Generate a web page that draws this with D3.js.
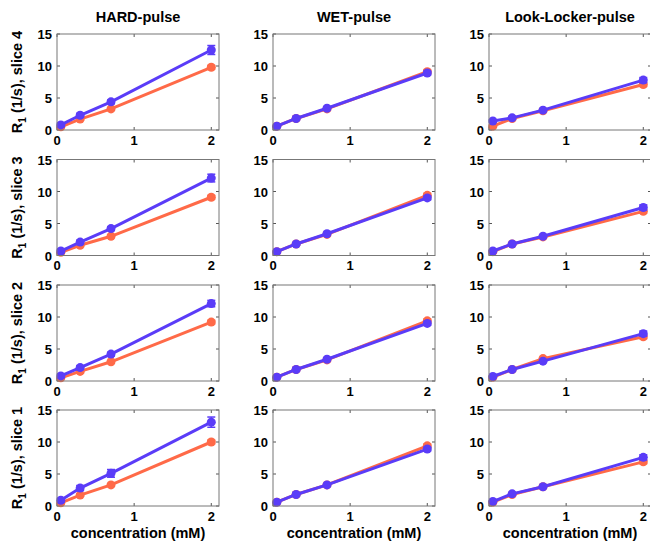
<!DOCTYPE html>
<html>
<head>
<meta charset="utf-8">
<script src="https://cdn.jsdelivr.net/npm/d3@7"></script>
<style>
  body { margin: 0; background: #fff; }
  svg { font-family: "Liberation Sans", Arial, sans-serif; font-weight: bold; }
</style>
</head>
<body>
<div id="app"></div>
<script>
const concentrations = [0.05, 0.3, 0.7, 2];
const methods = ["HARD-pulse", "WET-pulse", "Look-Locker-pulse"];
const slices = ["slice 4", "slice 3", "slice 2", "slice 1"];
const xTicks = [0, 1, 2];
const yTicks = [0, 5, 10, 15];

// red series, per method then per slice (rows top to bottom)
const redR1 = [
    [[0.5, 1.7, 3.3, 9.8], [0.5, 1.6, 3.0, 9.1], [0.5, 1.5, 3.0, 9.2], [0.5, 1.7, 3.3, 10.0]],
    [[0.6, 1.8, 3.3, 9.1], [0.6, 1.8, 3.3, 9.4], [0.6, 1.8, 3.3, 9.4], [0.6, 1.8, 3.3, 9.4]],
    [[0.6, 1.8, 3.0, 7.1], [0.6, 1.8, 2.9, 6.9], [0.6, 1.8, 3.5, 6.9], [0.6, 1.8, 3.0, 6.9]]
];
const redErr = [
    [[0.1, 0.2, 0.2, 0.3], [0.1, 0.2, 0.2, 0.3], [0.1, 0.2, 0.2, 0.3], [0.1, 0.2, 0.2, 0.3]],
    [[0.1, 0.1, 0.2, 0.3], [0.1, 0.1, 0.2, 0.3], [0.1, 0.1, 0.2, 0.3], [0.1, 0.1, 0.2, 0.3]],
    [[0.1, 0.1, 0.2, 0.3], [0.1, 0.1, 0.2, 0.3], [0.1, 0.1, 0.2, 0.3], [0.1, 0.1, 0.2, 0.3]]
];
// blue series
const blueR1 = [
    [[0.8, 2.3, 4.4, 12.5], [0.7, 2.1, 4.2, 12.1], [0.8, 2.1, 4.2, 12.1], [0.9, 2.8, 5.1, 13.1]],
    [[0.6, 1.8, 3.4, 8.9], [0.6, 1.8, 3.4, 9.0], [0.6, 1.8, 3.4, 9.0], [0.6, 1.8, 3.3, 8.9]],
    [[1.4, 1.9, 3.1, 7.8], [0.7, 1.8, 3.0, 7.5], [0.7, 1.8, 3.1, 7.4], [0.7, 1.9, 3.0, 7.6]]
];
const blueErr = [
    [[0.3, 0.3, 0.3, 0.7], [0.3, 0.3, 0.3, 0.6], [0.3, 0.3, 0.3, 0.5], [0.3, 0.4, 0.6, 0.8]],
    [[0.1, 0.2, 0.2, 0.3], [0.1, 0.2, 0.2, 0.3], [0.1, 0.2, 0.2, 0.3], [0.1, 0.2, 0.2, 0.3]],
    [[0.2, 0.2, 0.2, 0.4], [0.1, 0.2, 0.2, 0.4], [0.1, 0.2, 0.2, 0.4], [0.1, 0.2, 0.2, 0.4]]
];

const W = 650, H = 542;
const colLeft = [57, 273, 489];
const rowTop = [34, 159.5, 285, 410];
const panelW = 162, panelH = 96;
const RED = "#ff6a48", BLUE = "#5a3cf8";

const svg = d3.select("#app").append("svg")
    .attr("width", W)
    .attr("height", H);

const x = d3.scaleLinear([0, 2.1], [0, panelW]);
const y = d3.scaleLinear([0, 15], [panelH, 0]);

function drawSeries(g, vals, errs, color) {
    const pts = concentrations.map((c, i) => ({ c, v: vals[i], e: errs[i] }));
    g.append("g").selectAll("g")
        .data(pts)
        .join("g")
        .each(function (d) {
            const eg = d3.select(this);
            eg.append("line")
                .attr("x1", x(d.c)).attr("x2", x(d.c))
                .attr("y1", y(d.v - d.e)).attr("y2", y(d.v + d.e));
            eg.append("line")
                .attr("x1", x(d.c) - 4).attr("x2", x(d.c) + 4)
                .attr("y1", y(d.v + d.e)).attr("y2", y(d.v + d.e));
            eg.append("line")
                .attr("x1", x(d.c) - 4).attr("x2", x(d.c) + 4)
                .attr("y1", y(d.v - d.e)).attr("y2", y(d.v - d.e));
        })
        .attr("stroke", color)
        .attr("stroke-width", 1.5);

    g.append("path")
        .datum(pts)
        .attr("fill", "none")
        .attr("stroke", color)
        .attr("stroke-width", 3)
        .attr("d", d3.line().x(d => x(d.c)).y(d => y(d.v)));

    g.append("g").selectAll("circle")
        .data(pts)
        .join("circle")
        .attr("cx", d => x(d.c))
        .attr("cy", d => y(d.v))
        .attr("r", 4.5)
        .attr("fill", color);
}

methods.forEach((method, m) => {
    slices.forEach((slice, s) => {
        const g = svg.append("g")
            .attr("transform", `translate(${colLeft[m]},${rowTop[s]})`);

        g.append("rect")
            .attr("width", panelW).attr("height", panelH)
            .attr("fill", "#fff");

        // inward ticks on all four sides, matlab style
        const tk = g.append("g").attr("stroke", "#555").attr("stroke-width", 1);
        xTicks.forEach(t => {
            tk.append("line").attr("x1", x(t)).attr("x2", x(t)).attr("y1", panelH).attr("y2", panelH - 3);
            tk.append("line").attr("x1", x(t)).attr("x2", x(t)).attr("y1", 0).attr("y2", 3);
        });
        yTicks.forEach(t => {
            tk.append("line").attr("x1", 0).attr("x2", 3).attr("y1", y(t)).attr("y2", y(t));
            tk.append("line").attr("x1", panelW).attr("x2", panelW - 3).attr("y1", y(t)).attr("y2", y(t));
        });

        g.append("g").selectAll("text")
            .data(xTicks)
            .join("text")
            .attr("x", d => x(d))
            .attr("y", panelH + 14.5)
            .attr("text-anchor", "middle")
            .attr("font-size", 13)
            .text(d => d);

        g.append("g").selectAll("text")
            .data(yTicks)
            .join("text")
            .attr("x", -5)
            .attr("y", d => y(d) + 5)
            .attr("text-anchor", "end")
            .attr("font-size", 13)
            .text(d => d);

        drawSeries(g, redR1[m][s], redErr[m][s], RED);
        drawSeries(g, blueR1[m][s], blueErr[m][s], BLUE);

        g.append("rect")
            .attr("width", panelW).attr("height", panelH)
            .attr("fill", "none")
            .attr("stroke", "#777")
            .attr("stroke-width", 1);

        if (s === 0) {
            g.append("text")
                .attr("x", panelW / 2)
                .attr("y", -12)
                .attr("text-anchor", "middle")
                .attr("font-size", 14.5)
                .text(method);
        }
        if (s === slices.length - 1) {
            g.append("text")
                .attr("x", panelW / 2)
                .attr("y", panelH + 32)
                .attr("text-anchor", "middle")
                .attr("font-size", 14.5)
                .text("concentration (mM)");
        }
        if (m === 0) {
            const lab = g.append("text")
                .attr("transform", `translate(-35,${panelH / 2}) rotate(-90)`)
                .attr("text-anchor", "middle")
                .attr("font-size", 14.5);
            lab.append("tspan").text("R");
            lab.append("tspan").attr("font-size", 10).attr("dy", 4).text("1");
            lab.append("tspan").attr("dy", -4).text(" (1/s), " + slice);
        }
    });
});
</script>
</body>
</html>
